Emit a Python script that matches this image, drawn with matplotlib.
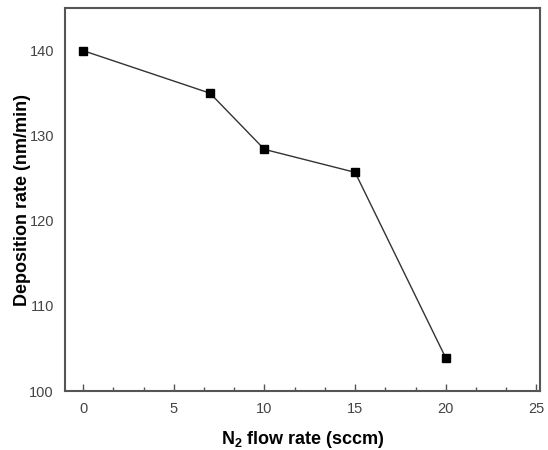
import numpy as np
import matplotlib.pyplot as plt
from matplotlib.ticker import MultipleLocator

plt.rcParams.update({
    'font.family': ['Liberation Sans', 'DejaVu Sans'],
    'mathtext.fontset': 'custom',
    'mathtext.rm': 'Liberation Sans:bold',
    'mathtext.bf': 'Liberation Sans:bold',
})

n2_flow = [0, 7, 10, 15, 20]
dep_rate = [140, 135, 128.4, 125.7, 103.9]
x_ticks = [0, 5, 10, 15, 20, 25]
y_ticks = [100, 110, 120, 130, 140]

spine_color = "#555555"
text_color = "#444444"

fig = plt.figure(figsize=(5.48, 4.5), dpi=100)
ax = fig.add_axes([0.1186, 0.131, 0.8668, 0.851])

ax.plot(n2_flow, dep_rate, color="#333333", linewidth=1.0,
        marker='s', markersize=5.5, markerfacecolor='black', markeredgecolor='black')

ax.set_xlim(-1, 25.2)
ax.set_ylim(100, 145)
ax.set_xticks(x_ticks)
ax.set_yticks(y_ticks)
ax.xaxis.set_minor_locator(MultipleLocator(5 / 3))

ax.tick_params(axis='x', which='major', direction='in', length=5, width=1, color=spine_color,
               labelsize=10.5, labelcolor=text_color, pad=8)
ax.tick_params(axis='x', which='minor', direction='in', length=3, width=1, color=spine_color)
ax.tick_params(axis='y', which='major', length=0, labelsize=10.5, labelcolor=text_color, pad=8)

for s in ax.spines.values():
    s.set_color(spine_color)
    s.set_linewidth(1.5)

ax.set_xlabel(r"N$_\mathregular{2}$ flow rate (sccm)", fontsize=13, fontweight='bold', labelpad=9)
ax.set_ylabel("Deposition rate (nm/min)", fontsize=13, fontweight='bold', labelpad=-1.5)

fig.savefig("out.png", dpi=100)
